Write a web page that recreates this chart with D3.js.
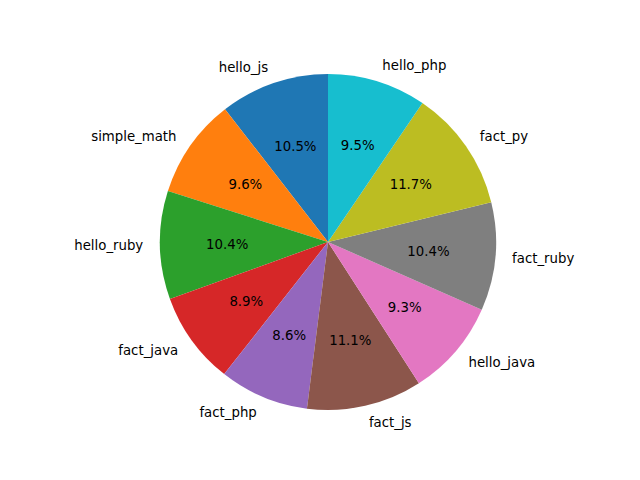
<!DOCTYPE html>
<html>
<head>
<meta charset="utf-8">
<script src="https://cdn.jsdelivr.net/npm/d3@7"></script>
<style>
  body { margin: 0; background: #fff; }
  text { font-family: "DejaVu Sans", sans-serif; font-size: 13.3px; fill: #000; }
</style>
</head>
<body>
<div id="pieChart"></div>
<script>
// Data (percent shares, counterclockwise from top)
var labels = ["hello_js", "simple_math", "hello_ruby", "fact_java", "fact_php",
              "fact_js", "hello_java", "fact_ruby", "fact_py", "hello_php"];
var values = [10.5, 9.6, 10.4, 8.9, 8.6, 11.1, 9.3, 10.4, 11.7, 9.5];
var colors = ["#1f77b4", "#ff7f0e", "#2ca02c", "#d62728", "#9467bd",
              "#8c564b", "#e377c2", "#7f7f7f", "#bcbd22", "#17becf"];

var width = 640,
    height = 480,
    cx = 328,
    cy = 242,
    radius = 168;

var svg = d3.select("#pieChart")
    .append("svg")
    .attr("width", width)
    .attr("height", height);

var g = svg.append("g")
    .attr("transform", `translate(${cx},${cy})`);

// counterclockwise like matplotlib with startangle=90
var pie = d3.pie()
    .sort(null)
    .value(d => d.value)
    .startAngle(0)
    .endAngle(-2 * Math.PI);

var data = labels.map((l, i) => ({ label: l, value: values[i], color: colors[i] }));
var arcs = pie(data);

var arc = d3.arc().innerRadius(0).outerRadius(radius);

g.selectAll("path")
    .data(arcs)
    .enter().append("path")
    .attr("d", arc)
    .attr("fill", d => d.data.color);

function mid(d) { return (d.startAngle + d.endAngle) / 2; }

// Outer labels
g.selectAll("text.label")
    .data(arcs)
    .enter().append("text")
    .attr("class", "label")
    .attr("x", d => 1.1 * radius * Math.sin(mid(d)))
    .attr("y", d => -1.1 * radius * Math.cos(mid(d)))
    .attr("dy", "0.35em")
    .style("text-anchor", d => Math.sin(mid(d)) > 0 ? "start" : "end")
    .text(d => d.data.label);

// Percent labels
g.selectAll("text.pct")
    .data(arcs)
    .enter().append("text")
    .attr("class", "pct")
    .attr("x", d => 0.6 * radius * Math.sin(mid(d)))
    .attr("y", d => -0.6 * radius * Math.cos(mid(d)))
    .attr("dy", "0.35em")
    .style("text-anchor", "middle")
    .text(d => d.data.value.toFixed(1) + "%");
</script>
</body>
</html>
